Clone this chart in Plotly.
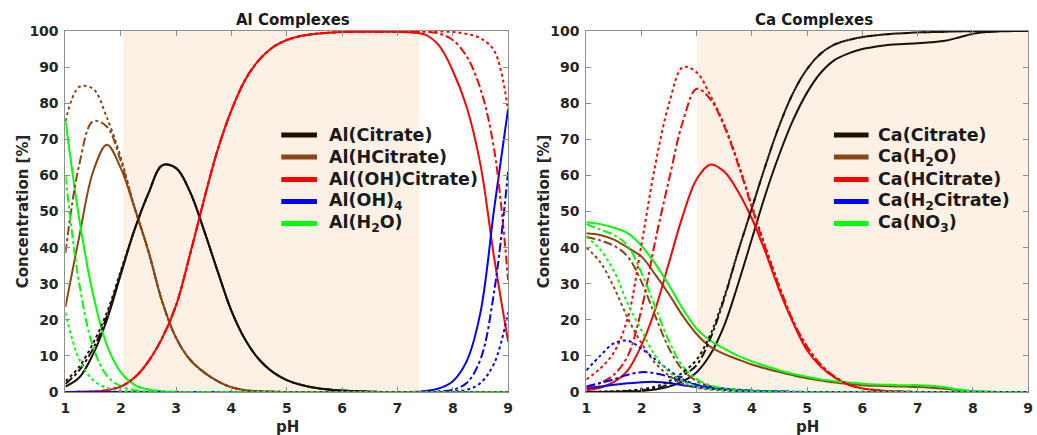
import plotly.graph_objects as go

# pH grid shared by every curve
ph = [1.0, 1.25, 1.5, 1.75, 2.0, 2.25, 2.5, 2.75, 3.0, 3.25, 3.5, 3.75, 4.0,
      4.25, 4.5, 4.75, 5.0, 5.25, 5.5, 5.75, 6.0, 6.25, 6.5, 6.75, 7.0,
      7.25, 7.5, 7.75, 8.0, 8.25, 8.5, 8.75, 9.0]

# ---------------- Al complexes (%), three conditions: solid / dash-dot / dotted
al_citrate = [1.5, 4, 10.5, 20, 32.5, 45, 55, 62.8, 62, 55.5, 45, 33.5, 22.5,
              14.5, 9, 5.5, 3.3, 2, 1.2, 0.7, 0.4, 0.2, 0.1, 0, 0,
              0, 0, 0, 0, 0, 0, 0, 0]
al_citrate_b = [2.2, 6, 12, 21, 33, 45, 55, 62.8, 62, 55.5, 45, 33.5, 22.5,
                14.5, 9, 5.5, 3.3, 2, 1.2, 0.7, 0.4, 0.2, 0.1, 0, 0,
                0, 0, 0, 0, 0, 0, 0, 0]
al_citrate_c = [3.0, 7, 13.5, 22, 33.5, 45, 55, 62.8, 62, 55.5, 45, 33.5, 22.5,
                14.5, 9, 5.5, 3.3, 2, 1.2, 0.7, 0.4, 0.2, 0.1, 0, 0,
                0, 0, 0, 0, 0, 0, 0, 0]

al_hcitrate = [23.5, 43, 61, 68.5, 62, 51, 39, 25, 15, 9, 5.5, 3, 1.3,
               0.5, 0.2, 0.1, 0, 0, 0, 0, 0, 0, 0, 0, 0,
               0, 0, 0, 0, 0, 0, 0, 0]
al_hcitrate_b = [38.5, 63, 75, 73.5, 64, 51, 39, 25, 15, 9, 5.5, 3, 1.3,
                 0.5, 0.2, 0.1, 0, 0, 0, 0, 0, 0, 0, 0, 0,
                 0, 0, 0, 0, 0, 0, 0, 0]
al_hcitrate_c = [75, 84.5, 84, 76, 65, 51, 39, 25, 15, 9, 5.5, 3, 1.3,
                 0.5, 0.2, 0.1, 0, 0, 0, 0, 0, 0, 0, 0, 0,
                 0, 0, 0, 0, 0, 0, 0, 0]

al_ohcitrate = [0, 0.05, 0.15, 0.5, 1.5, 4, 8.5, 15, 24, 38, 53, 67, 78,
                86.5, 92, 95.5, 97.5, 98.6, 99.2, 99.5, 99.7, 99.8, 99.8, 99.8, 99.8,
                99.6, 99, 96, 89, 79, 63, 37, 14]
al_ohcitrate_b = [0, 0.05, 0.15, 0.5, 1.5, 4, 8.5, 15, 24, 38, 53, 67, 78,
                  86.5, 92, 95.5, 97.5, 98.6, 99.2, 99.5, 99.7, 99.8, 99.8, 99.8, 99.8,
                  99.8, 99.8, 99.3, 97.5, 93, 84, 67, 31]
al_ohcitrate_c = [0, 0.05, 0.15, 0.5, 1.5, 4, 8.5, 15, 24, 38, 53, 67, 78,
                  86.5, 92, 95.5, 97.5, 98.6, 99.2, 99.5, 99.7, 99.8, 99.8, 99.8, 99.8,
                  99.8, 99.9, 99.9, 99.7, 99.2, 98, 94.5, 78]

al_oh4 = [0, 0, 0, 0, 0, 0, 0, 0, 0, 0, 0, 0, 0,
          0, 0, 0, 0, 0, 0, 0, 0, 0, 0, 0, 0,
          0, 0.3, 1, 3, 8.5, 22, 51, 78.5]
al_oh4_b = [0, 0, 0, 0, 0, 0, 0, 0, 0, 0, 0, 0, 0,
            0, 0, 0, 0, 0, 0, 0, 0, 0, 0, 0, 0,
            0, 0, 0.2, 0.6, 2.5, 9, 28, 61]
al_oh4_c = [0, 0, 0, 0, 0, 0, 0, 0, 0, 0, 0, 0, 0,
            0, 0, 0, 0, 0, 0, 0, 0, 0, 0, 0, 0,
            0, 0, 0, 0.2, 0.6, 2.5, 8, 22]

al_h2o = [75.5, 48, 27, 13, 5.5, 2, 0.7, 0.2, 0.05, 0, 0, 0, 0,
          0, 0, 0, 0, 0, 0, 0, 0, 0, 0, 0, 0,
          0, 0, 0, 0, 0, 0, 0, 0]
al_h2o_b = [60, 30, 12.5, 4.5, 1.6, 0.5, 0.15, 0, 0, 0, 0, 0, 0,
            0, 0, 0, 0, 0, 0, 0, 0, 0, 0, 0, 0,
            0, 0, 0, 0, 0, 0, 0, 0]
al_h2o_c = [22, 9, 3.3, 1.1, 0.35, 0.1, 0, 0, 0, 0, 0, 0, 0,
            0, 0, 0, 0, 0, 0, 0, 0, 0, 0, 0, 0,
            0, 0, 0, 0, 0, 0, 0, 0]

# ---------------- Ca complexes (%)
ca_citrate = [0, 0, 0.05, 0.15, 0.3, 0.7, 1.5, 3, 5.5, 10.5, 18.5, 30, 42.5,
              55, 66, 75.5, 83, 88.5, 92, 93.8, 95, 95.7, 96.2, 96.4, 96.6,
              96.9, 97.3, 98.2, 99.2, 99.7, 99.9, 100, 100]
ca_citrate_b = [0, 0.05, 0.1, 0.25, 0.5, 1, 2.2, 4.5, 7.5, 15, 26, 39, 51,
                63, 74, 83, 89.5, 93.8, 96.3, 97.5, 98.3, 98.8, 99.2, 99.4, 99.6,
                99.7, 99.8, 99.9, 99.9, 100, 100, 100, 100]
ca_citrate_c = [0, 0.1, 0.2, 0.4, 0.8, 1.5, 3, 5.5, 9, 16, 26.5, 39, 51,
                63, 74, 83, 89.5, 93.8, 96.3, 97.5, 98.3, 98.8, 99.2, 99.4, 99.6,
                99.7, 99.8, 99.9, 99.9, 100, 100, 100, 100]

ca_h2o = [44, 43.5, 42.2, 40, 37.5, 32.5, 27, 21, 16, 12.5, 10.5, 9, 7.6,
          6.5, 5.5, 4.6, 3.8, 3.2, 2.6, 2.2, 1.9, 1.7, 1.6, 1.5, 1.4,
          1.2, 0.9, 0.5, 0.2, 0.1, 0, 0, 0]
ca_h2o_b = [43, 42, 40.5, 37.5, 30.5, 21, 12, 6, 3, 1.6, 0.9, 0.6, 0.3,
            0.2, 0.1, 0, 0, 0, 0, 0, 0, 0, 0, 0, 0,
            0, 0, 0, 0, 0, 0, 0, 0]
ca_h2o_c = [40, 36, 29, 20.5, 13.5, 8, 4.5, 2.3, 1.2, 0.7, 0.4, 0.2, 0.1,
            0, 0, 0, 0, 0, 0, 0, 0, 0, 0, 0, 0,
            0, 0, 0, 0, 0, 0, 0, 0]

ca_hcitrate = [0.5, 1.2, 2.8, 6, 13, 23, 36, 49, 59, 63, 61, 55.5, 48,
               38.5, 28, 19, 11.5, 7, 4, 2, 1, 0.5, 0.2, 0.1, 0,
               0, 0, 0, 0, 0, 0, 0, 0]
ca_hcitrate_b = [1.2, 2.5, 4.8, 10, 23, 42, 59, 75, 84, 81, 73.5, 63, 51,
                 39.5, 29, 19.5, 12.5, 7.5, 4.2, 2.1, 1, 0.5, 0.2, 0.1, 0,
                 0, 0, 0, 0, 0, 0, 0, 0]
ca_hcitrate_c = [3.5, 6.5, 11, 20.5, 41, 63, 80, 90, 88.5, 82, 74, 63.5, 51.5,
                 40, 29.2, 19.5, 12.5, 7.5, 4.2, 2.1, 1, 0.5, 0.2, 0.1, 0,
                 0, 0, 0, 0, 0, 0, 0, 0]

ca_h2citrate = [1.0, 1.5, 2.0, 2.4, 2.7, 2.8, 2.5, 1.9, 1.4, 1, 0.7, 0.45, 0.3,
                0.2, 0.1, 0, 0, 0, 0, 0, 0, 0, 0, 0, 0,
                0, 0, 0, 0, 0, 0, 0, 0]
ca_h2citrate_b = [1.5, 2.5, 3.5, 4.8, 5.5, 5.2, 4.2, 3, 2, 1.3, 0.9, 0.6, 0.4,
                  0.25, 0.15, 0.1, 0, 0, 0, 0, 0, 0, 0, 0, 0,
                  0, 0, 0, 0, 0, 0, 0, 0]
ca_h2citrate_c = [6, 10, 13.5, 14.2, 12, 9, 6, 3.5, 2, 1.1, 0.6, 0.35, 0.2,
                  0.1, 0, 0, 0, 0, 0, 0, 0, 0, 0, 0, 0,
                  0, 0, 0, 0, 0, 0, 0, 0]

ca_no3 = [47, 46.5, 45.5, 44, 40.5, 35.5, 29.5, 23, 17.5, 14.2, 12, 10, 8.5,
          7.2, 6, 5, 4.2, 3.5, 3, 2.6, 2.3, 2.1, 2, 1.9, 1.9,
          1.7, 1.3, 0.7, 0.3, 0.1, 0, 0, 0]
ca_no3_b = [46.5, 45, 43.5, 40.5, 33, 23.5, 14, 7, 3.5, 1.8, 1, 0.6, 0.3,
            0.2, 0.1, 0, 0, 0, 0, 0, 0, 0, 0, 0, 0,
            0, 0, 0, 0, 0, 0, 0, 0]
ca_no3_c = [43, 39.5, 33.5, 24.5, 17, 10, 5.5, 3, 1.5, 0.8, 0.5, 0.3, 0.15,
            0.1, 0, 0, 0, 0, 0, 0, 0, 0, 0, 0, 0,
            0, 0, 0, 0, 0, 0, 0, 0]

al_names = ["Al(Citrate)", "Al(HCitrate)", "Al((OH)Citrate)",
            "Al(OH)<sub>4</sub>", "Al(H<sub>2</sub>O)"]
ca_names = ["Ca(Citrate)", "Ca(H<sub>2</sub>O)", "Ca(HCitrate)",
            "Ca(H<sub>2</sub>Citrate)", "Ca(NO<sub>3</sub>)"]

al_series = [
    (al_citrate, al_citrate_b, al_citrate_c),
    (al_hcitrate, al_hcitrate_b, al_hcitrate_c),
    (al_ohcitrate, al_ohcitrate_b, al_ohcitrate_c),
    (al_oh4, al_oh4_b, al_oh4_c),
    (al_h2o, al_h2o_b, al_h2o_c),
]
ca_series = [
    (ca_citrate, ca_citrate_b, ca_citrate_c),
    (ca_h2o, ca_h2o_b, ca_h2o_c),
    (ca_hcitrate, ca_hcitrate_b, ca_hcitrate_c),
    (ca_h2citrate, ca_h2citrate_b, ca_h2citrate_c),
    (ca_no3, ca_no3_b, ca_no3_c),
]

# shaded pH windows
al_window = (2.04, 7.4)
ca_window = (3.0, 9.0)

colors = ["#1c1007", "#8B4513", "#FF0000", "#0000FF", "#00FF00"]
dashes = ["solid", "dashdot", "dot"]

W, H = 1037, 435
FONT = "DejaVu Sans"
TXT = "#262626"
AX = "#8f8f8f"

fig = go.Figure()


def add_panel(series, xa, ya):
    for k, d in enumerate(dashes):
        for (triple, col) in zip(series, colors):
            fig.add_trace(go.Scatter(
                x=ph, y=triple[k], mode="lines", xaxis=xa, yaxis=ya,
                line=dict(color=col, width=2, dash=d, shape="spline", smoothing=1.0),
                showlegend=False, hoverinfo="skip"))


add_panel(al_series, "x", "y")
add_panel(ca_series, "x2", "y2")

# plot area in pixels: y 31..392; panels x 61..508 and 587..1033
t_px, b_px = 31, 392
def px(x):
    return x / W
def py(y):
    return (b_px - y) / (b_px - t_px)

axis_common = dict(
    showline=True, linecolor=AX, linewidth=1, mirror="ticks",
    ticks="inside", ticklen=5, tickcolor=AX, tickwidth=1,
    showgrid=False, zeroline=False,
    tickfont=dict(family=FONT, size=14, color=TXT, weight="bold"),
)

shapes = [
    dict(type="rect", xref="x", yref="y", x0=al_window[0], x1=al_window[1],
         y0=0, y1=100, fillcolor="#FDF0E5", line=dict(width=0), layer="below"),
    dict(type="rect", xref="x2", yref="y2", x0=ca_window[0], x1=ca_window[1],
         y0=0, y1=100, fillcolor="#FDF0E5", line=dict(width=0), layer="below"),
]

fig.update_layout(
    width=W, height=H,
    margin=dict(l=0, r=0, t=t_px, b=H - b_px),
    paper_bgcolor="white", plot_bgcolor="white",
    showlegend=False,
    xaxis=dict(domain=[px(61), px(508)], range=[1, 9], dtick=1, anchor="y",
               ticklabelstandoff=3, **axis_common),
    yaxis=dict(domain=[0, 1], range=[0, 100], dtick=10, anchor="x",
               ticklabelstandoff=3, **axis_common),
    xaxis2=dict(domain=[px(587), px(1033)], range=[1, 9], dtick=1, anchor="y2",
                ticklabelstandoff=3, **axis_common),
    yaxis2=dict(domain=[0, 1], range=[0, 100], dtick=10, anchor="x2",
                ticklabelstandoff=3, **axis_common),
)

title_font = dict(family=FONT, size=15, color="#1a1a1a", weight="bold")
label_font = dict(family=FONT, size=15, color=TXT, weight="bold")
legend_font = dict(family=FONT, size=17.5, color="#1a1a1a", weight="bold")

annots = [
    dict(text="Al Complexes", x=px(291), y=py(20), font=title_font, xanchor="center"),
    dict(text="Ca Complexes", x=px(817), y=py(20), font=title_font, xanchor="center"),
    dict(text="pH", x=px(285), y=py(427), font=label_font, xanchor="center"),
    dict(text="pH", x=px(810), y=py(427), font=label_font, xanchor="center"),
    dict(text="Concentration [%]", x=px(18), y=py(211.5), textangle=-90,
         font=label_font, xanchor="center"),
    dict(text="Concentration [%]", x=px(544), y=py(211.5), textangle=-90,
         font=label_font, xanchor="center"),
]

# legend keys: thick solid line sample plus label, one row per species
legend_rows = [135, 157, 179.5, 201.5, 223.5]
for names, (s0, s1, tx) in ((al_names, (279, 315, 325)), (ca_names, (837, 872, 879))):
    for name, col, ry in zip(names, colors, legend_rows):
        shapes.append(dict(type="line", xref="paper", yref="paper",
                           x0=px(s0), x1=px(s1), y0=py(ry), y1=py(ry),
                           line=dict(color=col, width=5)))
        annots.append(dict(text=name, x=px(tx), y=py(ry), font=legend_font,
                           xanchor="left"))

fig.update_layout(shapes=shapes)
for a in annots:
    fig.add_annotation(xref="paper", yref="paper", showarrow=False,
                       yanchor="middle", **a)

fig.write_html("out.html")
